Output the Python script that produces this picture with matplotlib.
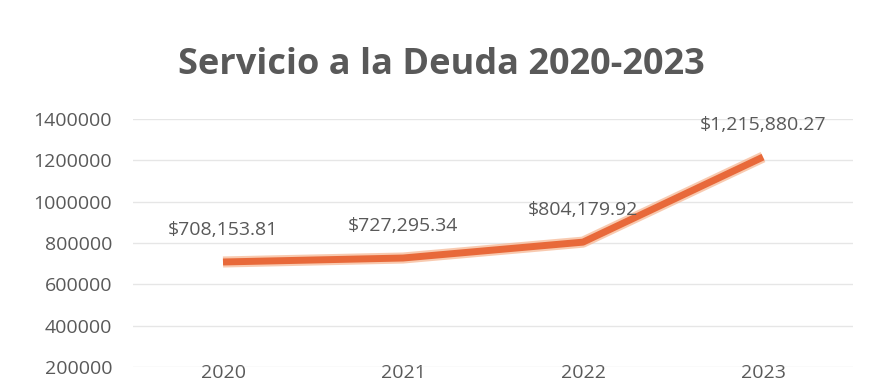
import matplotlib
matplotlib.use("Agg")
import matplotlib.pyplot as plt

years = ["2020", "2021", "2022", "2023"]
values = [708153.81, 727295.34, 804179.92, 1215880.27]
labels = ["$708,153.81", "$727,295.34", "$804,179.92", "$1,215,880.27"]
yticks = [200000, 400000, 600000, 800000, 1000000, 1200000, 1400000]

plt.rcParams['font.family'] = ['Open Sans', 'DejaVu Sans']
gray = "#595959"

fig = plt.figure(figsize=(8.69, 3.92), dpi=100)
ax = fig.add_axes([133/869, (392-367)/392, 720/869, 248/392])
x = list(range(len(years)))
ax.plot(x, values, color="#F6B48F", lw=8, solid_capstyle="butt", alpha=0.7, zorder=2)
ax.plot(x, values, color="#E8693A", lw=5, solid_capstyle="butt", zorder=3)
ax.set_xlim(-0.5, 3.5)
ax.set_ylim(200000, 1400000)
ax.set_yticks(yticks)
ax.set_yticklabels([str(v) for v in yticks])
ax.set_xticks(x)
ax.set_xticklabels(years)
ax.tick_params(axis="y", length=0, pad=15, labelsize=14, labelcolor=gray)
ax.tick_params(axis="x", length=0, pad=-2, labelsize=14, labelcolor=gray)
ax.grid(axis="y", color="#E6E6E6", lw=1)
ax.set_axisbelow(True)
for s in ax.spines.values():
    s.set_visible(False)
for xi, v, lab in zip(x, values, labels):
    ax.annotate(lab, (xi, v), xytext=(0, 32), textcoords="offset pixels",
                ha="center", va="center", fontsize=14, color=gray)
fig.text(441/869, 1 - 65/392, "Servicio a la Deuda 2020-2023", ha="center", va="center",
         fontsize=26, fontweight="bold", color=gray)
fig.savefig("out.png", dpi=100, facecolor="white")
